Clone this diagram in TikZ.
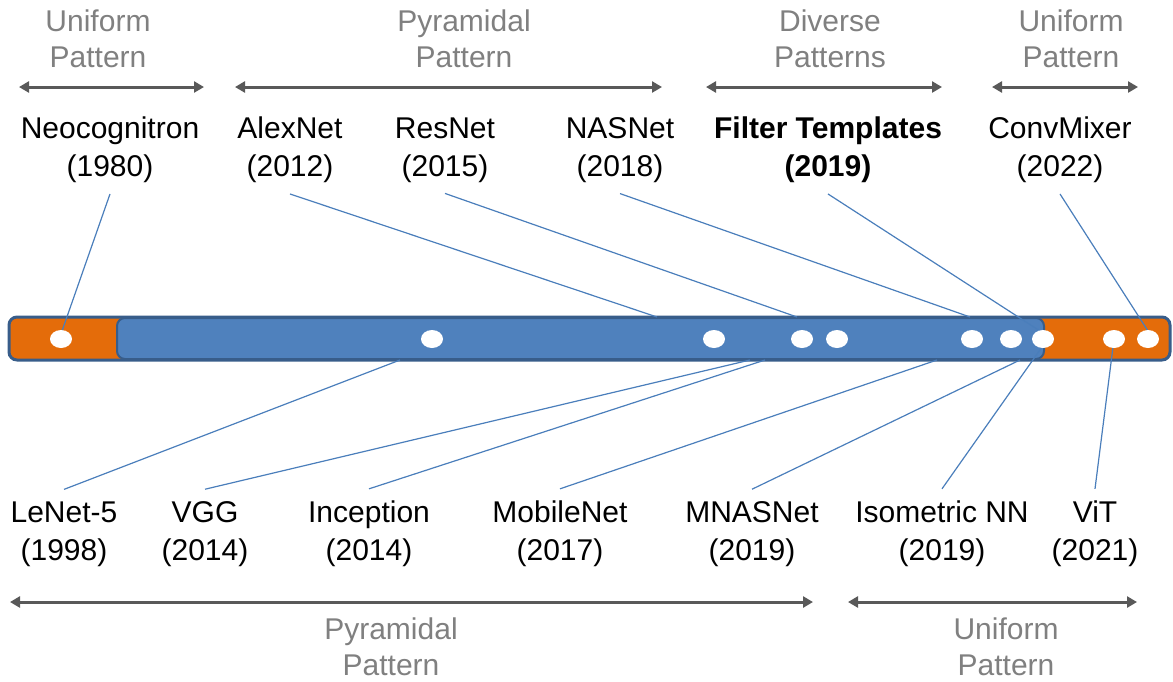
\documentclass[tikz,border=0pt]{standalone}
\usepackage{fontspec}
\setmainfont{Liberation Sans}
\usetikzlibrary{arrows.meta,shapes.geometric}
\definecolor{barblue}{HTML}{4F81BD}
\definecolor{barline}{HTML}{385D8A}
\definecolor{barorange}{HTML}{E46C0A}
\definecolor{linkblue}{HTML}{4A7EBB}
\definecolor{spangray}{HTML}{595959}
\definecolor{textgray}{HTML}{808080}

\begin{document}
\begin{tikzpicture}[x=1pt,y=-1pt,
  modellabel/.style={font=\fontsize{30}{38}\selectfont, align=center, inner sep=0pt,
    execute at begin node=\strut, execute at end node=\strut},
  toplabel/.style={modellabel, outer sep=6pt},
  botlabel/.style={modellabel, outer sep=12pt},
  grouplabel/.style={font=\fontsize{30}{36}\selectfont, text=textgray, align=center, inner sep=0pt,
    execute at begin node=\strut, execute at end node=\strut},
  spanarrow/.style={draw=spangray, line width=3pt,
    {Triangle[length=10pt,width=11pt]}-{Triangle[length=10pt,width=11pt]}},
  linkline/.style={draw=linkblue, line width=1.2pt},
  yeardot/.style={ellipse, fill=white, minimum width=22pt, minimum height=18pt, inner sep=0pt}
]
\useasboundingbox (0,0) rectangle (1173,681);

% group captions and their spans
\node[grouplabel] (gU1) at (98,43.8) {Uniform\\Pattern};
\node[grouplabel] (gP1) at (464,43.8) {Pyramidal\\Pattern};
\node[grouplabel] (gD1) at (830,43.8) {Diverse\\Patterns};
\node[grouplabel] (gU2) at (1071,43.8) {Uniform\\Pattern};
\node[grouplabel] (gP2) at (391,652) {Pyramidal\\Pattern};
\node[grouplabel] (gU3) at (1006,652) {Uniform\\Pattern};

\coordinate (s1a) at (19,87);   \coordinate (s1b) at (204,87);
\coordinate (s2a) at (235,87);  \coordinate (s2b) at (662,87);
\coordinate (s3a) at (706,87);  \coordinate (s3b) at (942,87);
\coordinate (s4a) at (992,87);  \coordinate (s4b) at (1138,87);
\coordinate (s5a) at (10,602);  \coordinate (s5b) at (813,602);
\coordinate (s6a) at (848,602); \coordinate (s6b) at (1137,602);
\foreach \s in {1,...,6} \draw[spanarrow] (s\s a) -- (s\s b);

% model names above the timeline
\node[toplabel] (neo)  at (110,152.4) {Neocognitron\\(1980)};
\node[toplabel] (alex) at (290,152.4) {AlexNet\\(2012)};
\node[toplabel] (res)  at (445,152.4) {ResNet\\(2015)};
\node[toplabel] (nas)  at (620,152.4) {NASNet\\(2018)};
\node[toplabel, font=\fontsize{30}{38}\selectfont\bfseries] (filt) at (828,152.4) {Filter Templates\\(2019)};
\node[toplabel] (conv) at (1060,152.4) {ConvMixer\\(2022)};

% model names below the timeline
\node[botlabel] (lenet) at (64,536.4)  {LeNet-5\\(1998)};
\node[botlabel] (vgg)   at (205,536.4) {VGG\\(2014)};
\node[botlabel] (incep) at (369,536.4) {Inception\\(2014)};
\node[botlabel] (mob)   at (560,536.4) {MobileNet\\(2017)};
\node[botlabel] (mnas)  at (752,536.4) {MNASNet\\(2019)};
\node[botlabel] (iso)   at (942,536.4) {Isometric NN\\(2019)};
\node[botlabel] (vit)   at (1095,536.4) {ViT\\(2021)};

% the timeline bar
\draw[fill=barorange, draw=barline, line width=3pt, rounded corners=8pt] (9,317) rectangle (1170,360);
\draw[fill=barblue, draw=barline, line width=2pt, rounded corners=8pt] (117,318) rectangle (1044,359);

% points where leaders meet the bar edge
\coordinate (alexEnd)  at (657,317);
\coordinate (resEnd)   at (797,317);
\coordinate (nasEnd)   at (970,317);
\coordinate (filtEnd)  at (1040,331);
\coordinate (convEnd)  at (1148,331);
\coordinate (lenetEnd) at (400,360);
\coordinate (vggEnd)   at (750,360);
\coordinate (incepEnd) at (765,360);
\coordinate (mobEnd)   at (937,360);
\coordinate (mnasEnd)  at (1020,360);
\coordinate (isoEnd)   at (1042,347);
\coordinate (vitEnd)   at (1113,347);
\coordinate (neoEnd)   at (62,331);

\draw[linkline] (neo.south) -- (neoEnd);
\draw[linkline] (alex.south) -- (alexEnd);
\draw[linkline] (res.south) -- (resEnd);
\draw[linkline] (nas.south) -- (nasEnd);
\draw[linkline] (filt.south) -- (filtEnd);
\draw[linkline] (conv.south) -- (convEnd);
\draw[linkline] (lenet.north) -- (lenetEnd);
\draw[linkline] (vgg.north) -- (vggEnd);
\draw[linkline] (incep.north) -- (incepEnd);
\draw[linkline] (mob.north) -- (mobEnd);
\draw[linkline] (mnas.north) -- (mnasEnd);
\draw[linkline] (iso.north) -- (isoEnd);
\draw[linkline] (vit.north) -- (vitEnd);

% year markers on the bar
\foreach \x [count=\i] in {61,432,714,802,837,972,1011,1043,1114,1148}
  \node[yeardot] (d\i) at (\x,339) {};
\end{tikzpicture}
\end{document}
